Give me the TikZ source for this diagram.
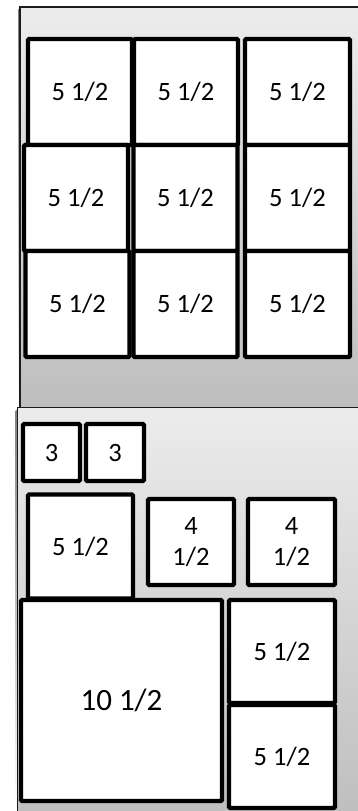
\documentclass[tikz,border=0pt]{standalone}
\usepackage{fontspec}
\setmainfont{Carlito}
\usepackage{xcolor}
\definecolor{trayhi}{RGB}{236,236,236}
\definecolor{traylo}{RGB}{189,189,189}
\definecolor{rim}{RGB}{28,28,28}
\definecolor{shade}{RGB}{240,240,240}

\begin{document}
\begin{tikzpicture}[x=1pt,y=-1pt,
  tray/.style={draw=rim,line width=1.3pt,top color=trayhi,bottom color=traylo},
  tile/.style={rectangle,draw=black,line width=4.2pt,fill=white,
               rounded corners=1pt,inner sep=0pt,align=center,
               font=\fontsize{26.5}{31}\selectfont},
  cell/.style={tile,minimum width=104pt,minimum height=106pt},
]
  \useasboundingbox (0,0) rectangle (357,811);

  % upper tray
  \fill[shade] (18,9) rectangle (20,414);
  \path[tray] (20,7) rectangle (372,414);
  \node[cell](t11) at (80,92)    {5 1/2};
  \node[cell](t12) at (186,92)   {5 1/2};
  \node[cell,minimum width=105pt](t13) at (297.5,92) {5 1/2};
  \node[cell](t21) at (76,198)   {5 1/2};
  \node[cell](t22) at (185.5,198) {5 1/2};
  \node[cell,minimum width=105pt](t23) at (297.5,198) {5 1/2};
  \node[cell](t31) at (77.5,304) {5 1/2};
  \node[cell](t32) at (185.5,304) {5 1/2};
  \node[cell,minimum width=105pt](t33) at (297.5,304) {5 1/2};

  % lower tray
  \fill[shade] (15.5,410) rectangle (17.5,811);
  \path[tray] (17.5,407.5) rectangle (372,830);
  \node[tile,minimum width=57pt,minimum height=57pt](s1) at (51.5,452.5) {3};
  \node[tile,minimum width=58pt,minimum height=57pt](s2) at (115,452.5)  {3};
  \node[tile,minimum width=105pt,minimum height=104pt](m1) at (80.5,546.5) {5 1/2};
  \node[tile,minimum width=86pt,minimum height=86pt](f1) at (191,542)  {4\\1/2};
  \node[tile,minimum width=87pt,minimum height=86pt](f2) at (291.5,542) {4\\1/2};
  \node[tile,minimum width=201pt,minimum height=201pt,
        font=\fontsize{31}{37}\selectfont](big) at (121.5,700.5) {10 1/2};
  \node[tile,minimum width=106pt,minimum height=103pt](r1) at (282,651.5) {5 1/2};
  \node[tile,minimum width=106pt,minimum height=103pt](r2) at (282,756.5) {5 1/2};
\end{tikzpicture}
\end{document}
